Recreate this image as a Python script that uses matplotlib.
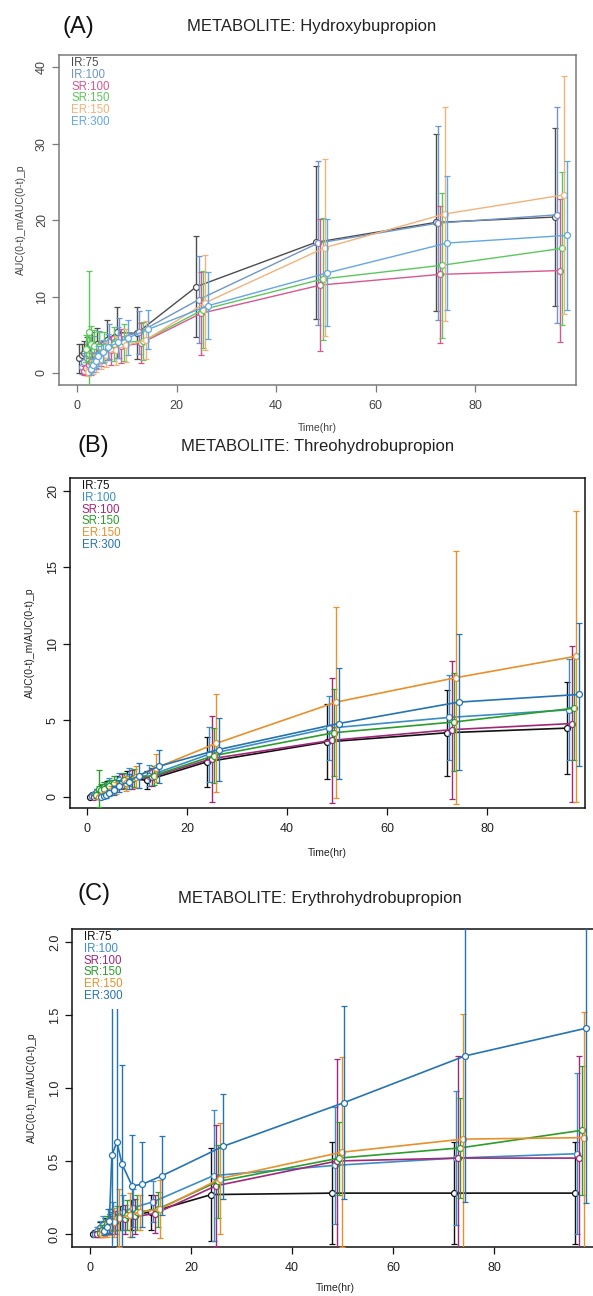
import matplotlib
matplotlib.use("Agg")
import matplotlib.pyplot as plt
from matplotlib.patches import Rectangle

plt.rcParams['font.family'] = ['Liberation Sans', 'DejaVu Sans']

W_PX, H_PX = 593, 1296

# ---------------------------------------------------------------- data
SERIES = ["IR:75", "IR:100", "SR:100", "SR:150", "ER:150", "ER:300"]
TIMES = [0.5, 1, 1.5, 2, 3, 4, 6, 8, 12, 24, 48, 72, 96]
X_TICKS = [0, 20, 40, 60, 80]

# Hydroxybupropion: metabolite/parent AUC ratio, mean and SD
hydroxy_mean = {
    "IR:75":  [1.9, 2.3, 2.6, 3.0, 3.4, 3.8, 4.3, 5.3, 5.2, 11.3, 17.1, 19.7, 20.4],
    "IR:100": [0.8, 1.4, 2.0, 2.5, 3.0, 3.5, 4.1, 4.6, 5.3, 9.6, 17.0, 19.6, 20.7],
    "SR:100": [0.3, 0.6, 1.0, 1.4, 2.0, 2.5, 3.0, 3.5, 3.9, 7.8, 11.5, 12.9, 13.4],
    "SR:150": [3.2, 5.4, 3.8, 3.5, 3.4, 3.4, 3.8, 4.0, 4.2, 8.3, 12.3, 14.1, 16.3],
    "ER:150": [0.1, 0.4, 0.8, 1.2, 1.8, 2.4, 3.0, 3.6, 4.3, 9.2, 16.4, 20.8, 23.3],
    "ER:300": [0.5, 1.0, 1.6, 2.2, 2.8, 3.4, 4.0, 4.6, 5.7, 8.8, 13.1, 17.0, 18.0],
}
hydroxy_sd = {
    "IR:75":  [1.9, 1.5, 1.6, 1.7, 1.9, 2.1, 2.6, 3.3, 3.4, 6.6, 10.0, 11.6, 11.6],
    "IR:100": [0.9, 1.2, 1.4, 1.6, 1.8, 2.0, 2.3, 2.6, 2.8, 5.7, 10.7, 12.7, 14.1],
    "SR:100": [0.6, 0.8, 1.0, 1.2, 1.4, 1.6, 1.9, 2.2, 2.6, 5.4, 8.6, 9.0, 9.3],
    "SR:150": [1.8, 8.0, 2.4, 2.1, 2.0, 2.0, 2.2, 2.4, 2.5, 5.0, 8.0, 9.5, 10.0],
    "ER:150": [0.5, 0.7, 0.9, 1.1, 1.3, 1.6, 1.9, 2.2, 2.5, 6.2, 11.6, 14.0, 15.6],
    "ER:300": [0.7, 0.9, 1.1, 1.3, 1.5, 1.7, 2.0, 2.3, 2.6, 4.4, 7.0, 8.8, 9.7],
}

# Threohydrobupropion
threo_mean = {
    "IR:75":  [0.0, 0.1, 0.2, 0.35, 0.5, 0.7, 1.0, 1.2, 1.1, 2.3, 3.6, 4.2, 4.5],
    "IR:100": [0.05, 0.15, 0.3, 0.45, 0.65, 0.85, 1.1, 1.3, 1.4, 2.8, 4.5, 5.2, 5.7],
    "SR:100": [0.0, 0.05, 0.15, 0.3, 0.5, 0.7, 1.0, 1.15, 1.3, 2.5, 3.7, 4.4, 4.8],
    "SR:150": [0.1, 0.55, 0.45, 0.55, 0.7, 0.9, 1.1, 1.25, 1.4, 2.7, 4.2, 4.9, 5.8],
    "ER:150": [0.0, 0.05, 0.1, 0.2, 0.4, 0.6, 0.9, 1.3, 1.9, 3.5, 6.2, 7.8, 9.2],
    "ER:300": [0.0, 0.05, 0.1, 0.25, 0.45, 0.7, 1.0, 1.4, 2.0, 3.1, 4.8, 6.2, 6.7],
}
threo_sd = {
    "IR:75":  [0.05, 0.1, 0.15, 0.2, 0.3, 0.35, 0.4, 0.5, 0.6, 1.65, 2.45, 2.8, 3.0],
    "IR:100": [0.1, 0.15, 0.2, 0.25, 0.3, 0.4, 0.5, 0.6, 0.7, 1.8, 2.1, 2.8, 3.3],
    "SR:100": [0.05, 0.1, 0.15, 0.2, 0.3, 0.4, 0.5, 0.6, 0.6, 2.8, 4.1, 4.5, 5.1],
    "SR:150": [0.15, 1.2, 0.4, 0.4, 0.4, 0.5, 0.5, 0.6, 0.6, 1.8, 2.85, 3.2, 3.4],
    "ER:150": [0.05, 0.1, 0.15, 0.2, 0.3, 0.4, 0.5, 0.7, 0.9, 3.2, 6.25, 8.25, 9.5],
    "ER:300": [0.05, 0.1, 0.15, 0.2, 0.3, 0.4, 0.5, 0.8, 1.1, 2.05, 3.6, 4.45, 4.65],
}

# Erythrohydrobupropion
erythro_mean = {
    "IR:75":  [0.0, 0.01, 0.02, 0.04, 0.06, 0.08, 0.11, 0.13, 0.15, 0.27, 0.28, 0.28, 0.28],
    "IR:100": [0.0, 0.02, 0.04, 0.06, 0.09, 0.12, 0.15, 0.18, 0.22, 0.40, 0.47, 0.52, 0.55],
    "SR:100": [0.0, 0.01, 0.02, 0.04, 0.06, 0.08, 0.10, 0.12, 0.14, 0.33, 0.50, 0.52, 0.52],
    "SR:150": [0.01, 0.03, 0.05, 0.07, 0.09, 0.11, 0.13, 0.15, 0.17, 0.36, 0.52, 0.59, 0.71],
    "ER:150": [0.0, 0.01, 0.03, 0.05, 0.08, 0.11, 0.13, 0.15, 0.17, 0.38, 0.56, 0.65, 0.66],
    "ER:300": [0.02, 0.05, 0.09, 0.54, 0.63, 0.48, 0.33, 0.34, 0.40, 0.60, 0.90, 1.22, 1.41],
}
erythro_sd = {
    "IR:75":  [0.01, 0.02, 0.03, 0.04, 0.05, 0.06, 0.08, 0.10, 0.12, 0.32, 0.35, 0.35, 0.35],
    "IR:100": [0.02, 0.03, 0.05, 0.06, 0.08, 0.10, 0.12, 0.13, 0.14, 0.45, 0.40, 0.46, 0.55],
    "SR:100": [0.02, 0.03, 0.04, 0.05, 0.06, 0.08, 0.10, 0.12, 0.13, 0.42, 0.70, 0.70, 0.70],
    "SR:150": [0.02, 0.03, 0.04, 0.05, 0.06, 0.08, 0.10, 0.12, 0.12, 0.25, 0.25, 0.34, 0.44],
    "ER:150": [0.02, 0.03, 0.05, 0.06, 0.10, 0.20, 0.15, 0.12, 0.20, 0.38, 0.65, 0.86, 0.86],
    "ER:300": [0.03, 0.05, 0.08, 1.50, 1.50, 0.68, 0.35, 0.29, 0.27, 0.36, 0.66, 1.00, 1.20],
}

# ---------------------------------------------------------------- style
DODGE = [0.0, 0.45, 0.9, 1.35, 1.8, 2.3]
COLORS_LIGHT = ["#4d4d4d", "#6f95c9", "#d9568f", "#5cc85c", "#f2b27a", "#62a7e3"]
COLORS_DARK = ["#111111", "#3a8ec8", "#a3267a", "#2a9d2a", "#e8902a", "#2474b5"]
YLABEL = "AUC(0-t)_m/AUC(0-t)_p"


def px_rect(left, top, right, bottom):
    return [left / W_PX, 1 - bottom / H_PX, (right - left) / W_PX, (bottom - top) / H_PX]


def draw_panel(fig, box, xlim, ylim, yticks, yticklabels, means, sds, colors,
               frame_color, label_color, lw, title, title_xy, tag, tag_xy,
               xlabel_y, ylabel_x):
    ax = fig.add_axes(px_rect(*box))
    for i, name in enumerate(SERIES):
        xs = [t + DODGE[i] for t in TIMES]
        ax.errorbar(xs, means[name], yerr=sds[name], color=colors[i], lw=lw,
                    elinewidth=1.0, capsize=2.5, capthick=1.0, marker='o',
                    ms=4.3, mfc='white', mec=colors[i], mew=0.9, zorder=2 + i)
    ax.set_xlim(*xlim)
    ax.set_ylim(*ylim)
    ax.set_xticks(X_TICKS)
    ax.set_yticks(yticks)
    ax.set_yticklabels(yticklabels, rotation=90, va='center')
    ax.tick_params(direction='out', length=5, width=0.9, labelsize=9,
                   colors=frame_color, labelcolor=label_color)
    ax.tick_params(axis='x', pad=6)
    ax.tick_params(axis='y', pad=3)
    for sp in ax.spines.values():
        sp.set_color(frame_color)
        sp.set_linewidth(1.1)

    # colour-coded series key with a white backing
    ax_w = box[2] - box[0]
    ax_h = box[3] - box[1]
    ax.add_patch(Rectangle((0.004, 1 - 80 / ax_h), 52 / ax_w, 78 / ax_h,
                           transform=ax.transAxes, facecolor='white',
                           edgecolor='none', zorder=20))
    for i, name in enumerate(SERIES):
        ax.annotate(name, xy=(0, 1), xycoords='axes fraction',
                    xytext=(12, -8 - 11.8 * i), textcoords='offset pixels',
                    ha='left', va='center', fontsize=8.3, color=colors[i],
                    zorder=21)

    cx = (box[0] + box[2]) / 2
    fig.text(cx / W_PX, 1 - xlabel_y / H_PX, "Time(hr)", ha='center', va='center',
             fontsize=7.5, color=label_color)
    fig.text(ylabel_x / W_PX, 1 - ((box[1] + box[3]) / 2) / H_PX, YLABEL,
             rotation=90, ha='center', va='center', fontsize=7.5, color=label_color)
    fig.text(title_xy[0] / W_PX, 1 - title_xy[1] / H_PX, title, ha='center',
             va='center', fontsize=12, color='#222222')
    fig.text(tag_xy[0] / W_PX, 1 - tag_xy[1] / H_PX, tag, ha='center',
             va='center', fontsize=17, color='#111111')
    return ax


fig = plt.figure(figsize=(W_PX / 100, H_PX / 100), dpi=100)
fig.patch.set_facecolor('white')

draw_panel(fig, (59, 55, 576, 385), (-3.6, 100.2), (-1.57, 41.6),
           [0, 10, 20, 30, 40], ["0", "10", "20", "30", "40"],
           hydroxy_mean, hydroxy_sd, COLORS_LIGHT, '#7a7a7a', '#444444', 1.0,
           "METABOLITE: Hydroxybupropion", (312, 26), "(A)", (78, 27),
           428, 21)

draw_panel(fig, (70, 478, 585, 808), (-3.4, 99.6), (-0.72, 20.85),
           [0, 5, 10, 15, 20], ["0", "5", "10", "15", "20"],
           threo_mean, threo_sd, COLORS_DARK, '#111111', '#222222', 1.2,
           "METABOLITE: Threohydrobupropion", (318, 447), "(B)", (93, 446),
           853, 30)

draw_panel(fig, (72, 929, 598, 1247), (-3.6, 100.6), (-0.089, 2.089),
           [0.0, 0.5, 1.0, 1.5, 2.0], ["0.0", "0.5", "1.0", "1.5", "2.0"],
           erythro_mean, erythro_sd, COLORS_DARK, '#111111', '#222222', 1.2,
           "METABOLITE: Erythrohydrobupropion", (320, 898), "(C)", (94, 894),
           1288, 32)

fig.savefig("out.png", dpi=100)
